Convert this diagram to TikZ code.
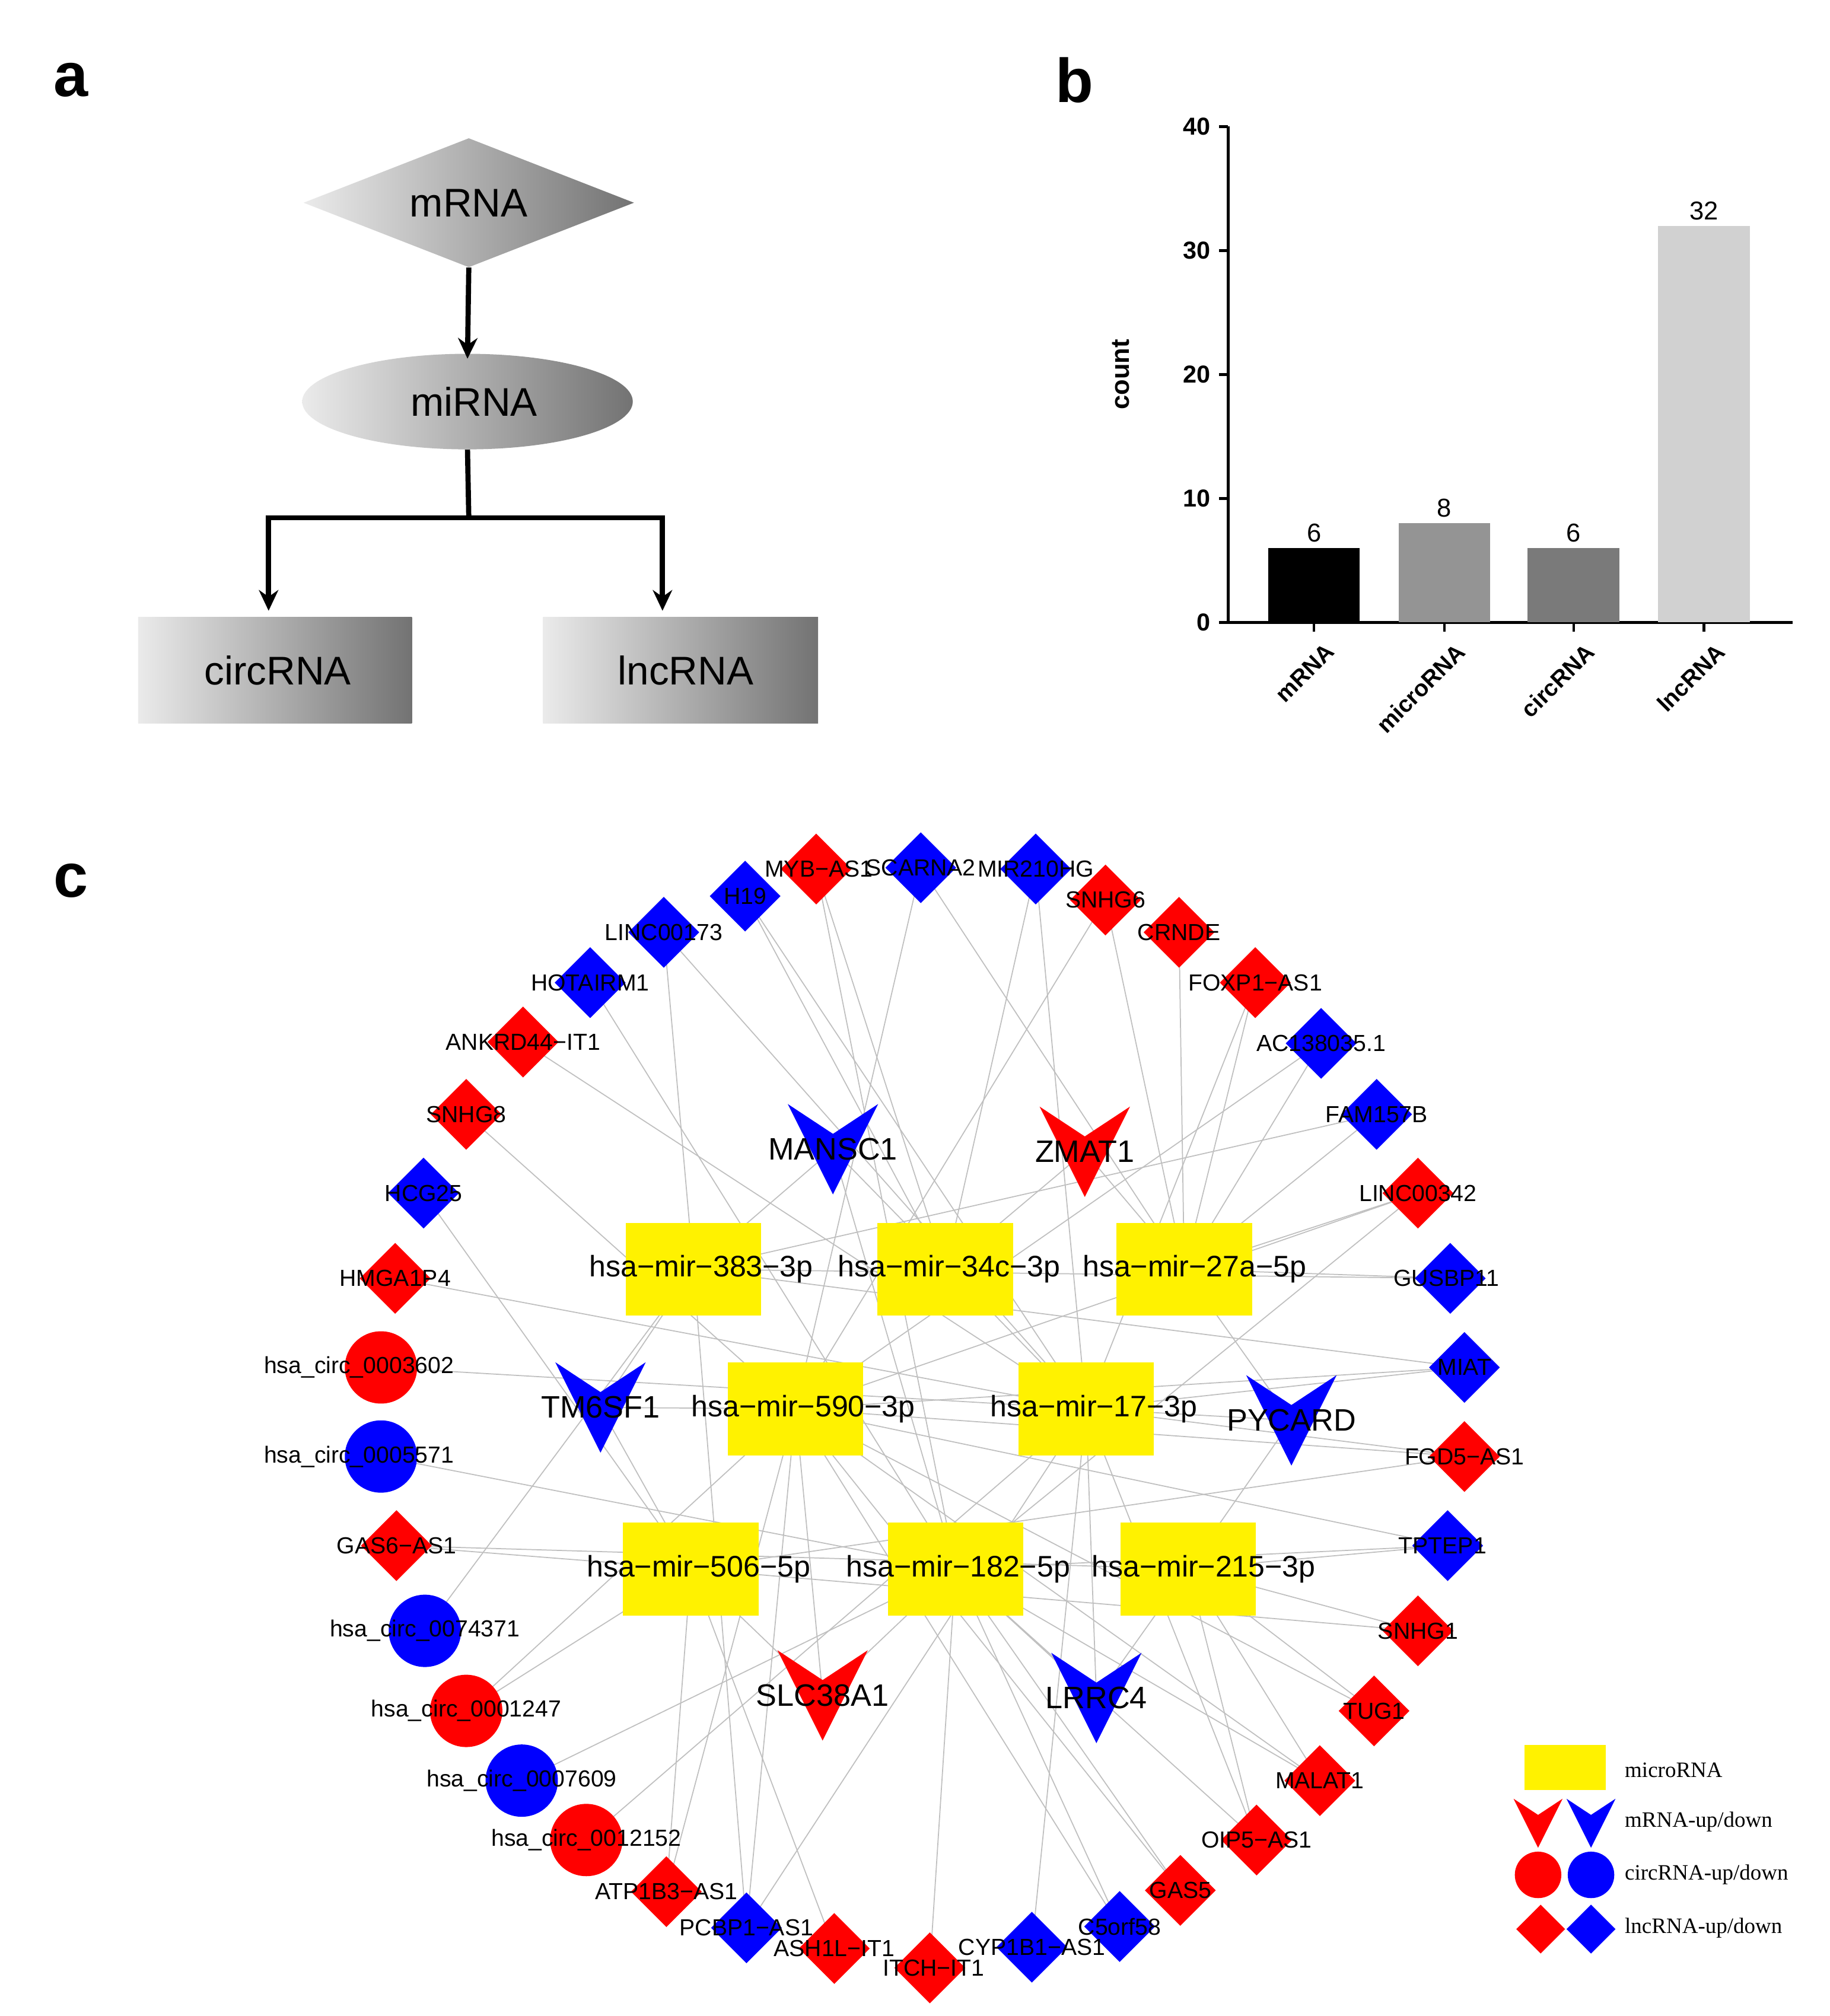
\documentclass[tikz,border=0pt]{standalone}
\usepackage{fontspec}
\setmainfont{Liberation Sans}
\newfontfamily\legfont{Liberation Serif}
\usetikzlibrary{shapes.geometric,backgrounds,arrows.meta}
\pgfdeclarelayer{edges}
\pgfsetlayers{background,edges,main}
\tikzset{
  fs/.style={font=\fontsize{#1}{#1}\selectfont},
  lnc/.style={diamond,fill=#1,minimum width=55,minimum height=55,inner sep=0},
  circ/.style={circle,fill=#1,minimum size=56,inner sep=0},
  mir/.style={rectangle,fill=yellow,minimum width=105,minimum height=72,inner sep=0},
  lab/.style={fs=18,inner sep=0},
  mirlab/.style={fs=23,inner sep=0},
  vshape/.style={rectangle,minimum width=#1,minimum height=#1,inner sep=0},
  vfill/.style={path picture={\fill[#1] (path picture bounding box.north west) -- ([yshift=-0.33*\pgfkeysvalueof{/pgf/minimum height}]path picture bounding box.north) -- (path picture bounding box.north east) -- (path picture bounding box.south) -- cycle;}},
  edge/.style={draw=black!25,line width=0.8pt},
  grad/.style={shading=axis,left color=black!8,right color=black!55,shading angle=90},
  conn/.style={line width=4pt,-{Stealth[length=16pt,width=15pt]}},
}
\newcommand\lncn[6]{\node[lnc=#4] (#1) at (#2,#3) {}; \node[lab] at (#2+#6,#3) {#5};}
\newcommand\circn[6]{\node[circ=#4] (#1) at (#2,#3) {}; \node[lab] at (#2+#6,#3) {#5};}
\newcommand\vnode[5]{\node[vshape=70,vfill=#4] (#1) at (#2,#3) {}; \node[fs=24,inner sep=0] at (#2,#3) {#5};}
\begin{document}
\begin{tikzpicture}[x=1pt,y=-1pt]
\begin{pgfonlayer}{background}
\fill[white] (0,0) rectangle (1417,1561.3);
\end{pgfonlayer}
\useasboundingbox (0,0) rectangle (1417,1561.3);
% panel letters
\node[font=\bfseries\fontsize{48}{48}\selectfont] (la) at (55,62) {a};
\node[font=\bfseries\fontsize{48}{48}\selectfont] (lb) at (832,62) {b};
\node[font=\bfseries\fontsize{48}{48}\selectfont] (lc) at (55,682) {c};
% panel a
\node[diamond,grad,minimum width=256,minimum height=100,inner sep=0,aspect=2.56] (dm) at (363,157) {};
\node[fs=31] at (363,157) {mRNA};
\node[ellipse,grad,minimum width=256,minimum height=74,inner sep=0] (el) at (362,311) {};
\node[fs=31] at (367,311) {miRNA};
\node[rectangle,grad,minimum width=212,minimum height=82,inner sep=0] (cr) at (213,519) {};
\node[fs=31] at (215,519) {circRNA};
\node[rectangle,grad,minimum width=213,minimum height=82,inner sep=0] (lr) at (527,519) {};
\node[fs=31] at (531,519) {lncRNA};
\coordinate (a1) at (363,207);
\draw[conn] (dm.south) -- ([yshift=-4pt]el.north);
\coordinate (jn) at (363,401);
\draw[line width=4pt] (el.south) -- (jn);
\coordinate (t1) at (208,473);
\coordinate (t2) at (513,473);
\draw[conn] (jn) -| (t1);
\draw[conn] (jn) -| (t2);
% panel b
\draw[line width=2pt] (951,98) -- (951,482) -- (1388,482);
\foreach \v in {0,10,20,30,40}{
  \draw[line width=2pt] (944,482-9.6*\v) -- (951,482-9.6*\v);
  \node[font=\bfseries\fontsize{19}{19}\selectfont,anchor=east] at (941,482-9.6*\v) {\v};
}
\node[font=\bfseries\fontsize{20}{20}\selectfont,rotate=90] at (868,290) {count};
\foreach \xc/\val/\col/\nm in {1017.5/6/black/mRNA,1118.5/8/black!42/microRNA,1218.5/6/black!52/circRNA,1319.5/32/black!18/lncRNA}{
  \fill[\col] (\xc-35.5,482) rectangle (\xc+35.5,482-9.6*\val);
  \node[fs=20,anchor=south] at (\xc,482-9.6*\val-1) {\val};
  \draw[line width=2pt] (\xc,482) -- (\xc,489);
  \node[font=\bfseries\fontsize{18}{18}\selectfont,anchor=north east,rotate=45,inner sep=0] at (\xc+8,497) {\nm};
}
% panel c : miRNAs
\node[mir] (A) at (537,983) {}; \node[mirlab] at (543,983) {hsa−mir−383−3p};
\node[mir] (B) at (732,983) {}; \node[mirlab] at (735,983) {hsa−mir−34c−3p};
\node[mir] (C) at (917,983) {}; \node[mirlab] at (925,983) {hsa−mir−27a−5p};
\node[mir] (D) at (616,1091) {}; \node[mirlab] at (622,1091) {hsa−mir−590−3p};
\node[mir] (E) at (841,1091) {}; \node[mirlab] at (847,1091) {hsa−mir−17−3p};
\node[mir] (F) at (535,1215) {}; \node[mirlab] at (541,1215) {hsa−mir−506−5p};
\node[mir] (G) at (740,1215) {}; \node[mirlab] at (742,1215) {hsa−mir−182−5p};
\node[mir] (H) at (920,1215) {}; \node[mirlab] at (932,1215) {hsa−mir−215−3p};
% mRNAs
\vnode{m1}{645}{890}{blue}{MANSC1}
\vnode{m2}{840}{892}{red}{ZMAT1}
\vnode{m3}{465}{1090}{blue}{TM6SF1}
\vnode{m4}{1000}{1100}{blue}{PYCARD}
\vnode{m5}{637}{1313}{red}{SLC38A1}
\vnode{m6}{849}{1315}{blue}{LRRC4}
% outer ring
\lncn{o1}{577}{694}{blue}{H19}{0}
\lncn{o2}{632}{673}{red}{MYB−AS1}{2}
\lncn{o3}{713}{672}{blue}{SCARNA2}{0}
\lncn{o4}{802}{673}{blue}{MIR210HG}{0}
\lncn{o5}{856}{697}{red}{SNHG6}{0}
\lncn{o6}{913}{722}{red}{CRNDE}{0}
\lncn{o7}{972}{761}{red}{FOXP1−AS1}{0}
\lncn{o8}{1023}{808}{blue}{AC138035.1}{0}
\lncn{o9}{1066}{863}{blue}{FAM157B}{0}
\lncn{o10}{1098}{924}{red}{LINC00342}{0}
\lncn{o11}{1123}{990}{blue}{GUSBP11}{-3}
\lncn{o12}{1134}{1059}{blue}{MIAT}{0}
\lncn{o13}{1134}{1128}{red}{FGD5−AS1}{0}
\lncn{o14}{1121}{1197}{blue}{TPTEP1}{-4}
\lncn{o15}{1098}{1263}{red}{SNHG1}{0}
\lncn{o16}{1064}{1325}{red}{TUG1}{0}
\lncn{o17}{1022}{1379}{red}{MALAT1}{0}
\lncn{o18}{973}{1425}{red}{OIP5−AS1}{0}
\lncn{o19}{914}{1464}{red}{GAS5}{0}
\lncn{o20}{867}{1492}{blue}{C5orf58}{0}
\lncn{o21}{799}{1508}{blue}{CYP1B1−AS1}{0}
\lncn{o22}{720}{1524}{red}{ITCH−IT1}{3}
\lncn{o23}{646}{1509}{red}{ASH1L−IT1}{0}
\lncn{o24}{578}{1493}{blue}{PCBP1−AS1}{0}
\lncn{o25}{516}{1465}{red}{ATP1B3−AS1}{0}
\circn{o26}{454}{1425}{red}{hsa\_circ\_0012152}{0}
\circn{o27}{404}{1379}{blue}{hsa\_circ\_0007609}{0}
\circn{o28}{361}{1325}{red}{hsa\_circ\_0001247}{0}
\circn{o29}{329}{1263}{blue}{hsa\_circ\_0074371}{0}
\lncn{o30}{307}{1197}{red}{GAS6−AS1}{0}
\circn{o31}{295}{1128}{blue}{hsa\_circ\_0005571}{-17}
\circn{o32}{295}{1059}{red}{hsa\_circ\_0003602}{-17}
\lncn{o33}{306}{990}{red}{HMGA1P4}{0}
\lncn{o34}{328}{924}{blue}{HCG25}{0}
\lncn{o35}{361}{863}{red}{SNHG8}{0}
\lncn{o36}{405}{807}{red}{ANKRD44−IT1}{0}
\lncn{o37}{457}{761}{blue}{HOTAIRM1}{0}
\lncn{o38}{514}{722}{blue}{LINC00173}{0}
% edges
\begin{pgfonlayer}{edges}
\foreach \s/\t in {o1/B,o1/E,o2/B,o2/G,o3/D,o3/C,o4/E,o4/B,o5/D,o5/C,o6/C,o7/C,o7/E,o8/C,o8/D,o9/C,o9/A,
  o10/C,o10/G,o10/D,o11/C,o11/A,o12/E,o12/D,o12/A,o13/E,o13/F,o13/D,o14/H,o14/G,o14/D,o15/H,o15/F,
  o16/H,o16/D,o17/G,o17/D,o17/H,o18/H,o18/G,o18/E,o19/G,o19/D,o20/D,o20/G,o21/E,o22/G,o23/F,
  o24/E,o24/D,o24/A,o25/D,o25/F,o26/E,o27/G,o28/F,o28/D,o29/A,o30/H,o30/F,o31/G,o32/E,o33/E,
  o34/F,o35/D,o36/E,o37/G,o38/E,o38/A,
  m1/A,m1/G,m1/E,m2/C,m2/B,m3/A,m3/F,m3/D,m4/C,m4/H,m4/E,m5/F,m5/G,m5/D,m6/G,m6/H,m6/E}
  \draw[edge] (\s.center) -- (\t.center);
\end{pgfonlayer}
% legend
\node[mir,minimum width=63,minimum height=35] (Lm) at (1212,1369) {};
\node[vshape=38,vfill=red] (Lv1) at (1191,1412) {};
\node[vshape=38,vfill=blue] (Lv2) at (1232,1412) {};
\node[circle,fill=red,minimum size=36,inner sep=0] (Lc1) at (1191,1452) {};
\node[circle,fill=blue,minimum size=36,inner sep=0] (Lc2) at (1232,1452) {};
\node[diamond,fill=red,minimum width=38,minimum height=38,inner sep=0] (Ld1) at (1193,1494) {};
\node[diamond,fill=blue,minimum width=38,minimum height=38,inner sep=0] (Ld2) at (1232,1494) {};
\foreach \yy/\tt in {1371/{microRNA},1411/{mRNA-up/down},1452/{circRNA-up/down},1493/{lncRNA-up/down}}
  \node[font=\legfont\fontsize{17}{17}\selectfont,anchor=west,inner sep=0] at (1258,\yy) {\tt};
\end{tikzpicture}
\end{document}
